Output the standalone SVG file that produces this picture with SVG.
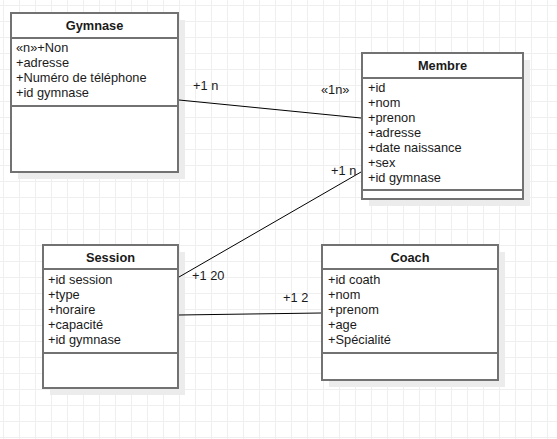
<svg xmlns="http://www.w3.org/2000/svg" width="557" height="439" viewBox="0 0 557 439">
<defs>
<pattern id="grid" x="3" y="5" width="16" height="16" patternUnits="userSpaceOnUse">
<path d="M0.5 0V16M0 0.5H16" fill="none" stroke="#efefef" stroke-width="1"/>
</pattern>
</defs>
<style>
.shadow{fill:#ececec}
.box{fill:#ffffff;stroke:#727272;stroke-width:2}
.sep{stroke:#727272;stroke-width:2}
.title{font-family:"Liberation Sans",Arial,sans-serif;font-size:12.8px;font-weight:bold;fill:#1a1a1a;text-anchor:middle}
.attr{font-family:"Liberation Sans",Arial,sans-serif;font-size:12.8px;fill:#1a1a1a}
.conn{stroke:#000;stroke-width:1;fill:none}
.lbl{font-family:"Liberation Sans",Arial,sans-serif;font-size:12.8px;fill:#1a1a1a}
</style>
<rect width="557" height="439" fill="#ffffff"/>
<rect width="557" height="439" fill="url(#grid)"/>

<g id="gymnase">
<rect class="shadow" x="18" y="20" width="167" height="159"/>
<rect class="box" x="11" y="13" width="167" height="159"/>
<line class="sep" x1="11" y1="38" x2="178" y2="38"/>
<line class="sep" x1="11" y1="106" x2="178" y2="106"/>
<text class="title" x="94.5" y="30">Gymnase</text>
<text class="attr" x="16" y="52">«n»+Non</text>
<text class="attr" x="16" y="67">+adresse</text>
<text class="attr" x="16" y="82">+Numéro de téléphone</text>
<text class="attr" x="16" y="97">+id gymnase</text>
</g>

<g id="membre">
<rect class="shadow" x="369" y="60" width="161" height="146"/>
<rect class="box" x="362" y="53" width="161" height="146"/>
<line class="sep" x1="362" y1="78" x2="523" y2="78"/>
<line class="sep" x1="362" y1="190" x2="523" y2="190"/>
<text class="title" x="442.5" y="70">Membre</text>
<text class="attr" x="368" y="92">+id</text>
<text class="attr" x="368" y="107">+nom</text>
<text class="attr" x="368" y="122">+prenon</text>
<text class="attr" x="368" y="137">+adresse</text>
<text class="attr" x="368" y="152">+date naissance</text>
<text class="attr" x="368" y="167">+sex</text>
<text class="attr" x="368" y="182">+id gymnase</text>
</g>

<g id="session">
<rect class="shadow" x="50" y="252" width="135" height="143"/>
<rect class="box" x="43" y="245" width="135" height="143"/>
<line class="sep" x1="43" y1="269" x2="178" y2="269"/>
<line class="sep" x1="43" y1="353" x2="178" y2="353"/>
<text class="title" x="110.5" y="262">Session</text>
<text class="attr" x="48" y="284">+id session</text>
<text class="attr" x="48" y="299">+type</text>
<text class="attr" x="48" y="314">+horaire</text>
<text class="attr" x="48" y="329">+capacité</text>
<text class="attr" x="48" y="344">+id gymnase</text>
</g>

<g id="coach">
<rect class="shadow" x="329" y="252" width="176" height="135"/>
<rect class="box" x="322" y="245" width="176" height="135"/>
<line class="sep" x1="322" y1="269" x2="498" y2="269"/>
<line class="sep" x1="322" y1="353" x2="498" y2="353"/>
<text class="title" x="410" y="262">Coach</text>
<text class="attr" x="328" y="284">+id coath</text>
<text class="attr" x="328" y="299">+nom</text>
<text class="attr" x="328" y="314">+prenom</text>
<text class="attr" x="328" y="329">+age</text>
<text class="attr" x="328" y="344">+Spécialité</text>
</g>

<g id="connectors">
<line class="conn" x1="179" y1="100" x2="361" y2="118"/>
<line class="conn" x1="179" y1="277" x2="361" y2="172"/>
<line class="conn" x1="179" y1="315" x2="321" y2="313"/>
<text class="lbl" x="193" y="90">+1 n</text>
<text class="lbl" x="321" y="94">«1n»</text>
<text class="lbl" x="331" y="175">+1 n</text>
<text class="lbl" x="192" y="280">+1 20</text>
<text class="lbl" x="283" y="302">+1 2</text>
</g>
</svg>
